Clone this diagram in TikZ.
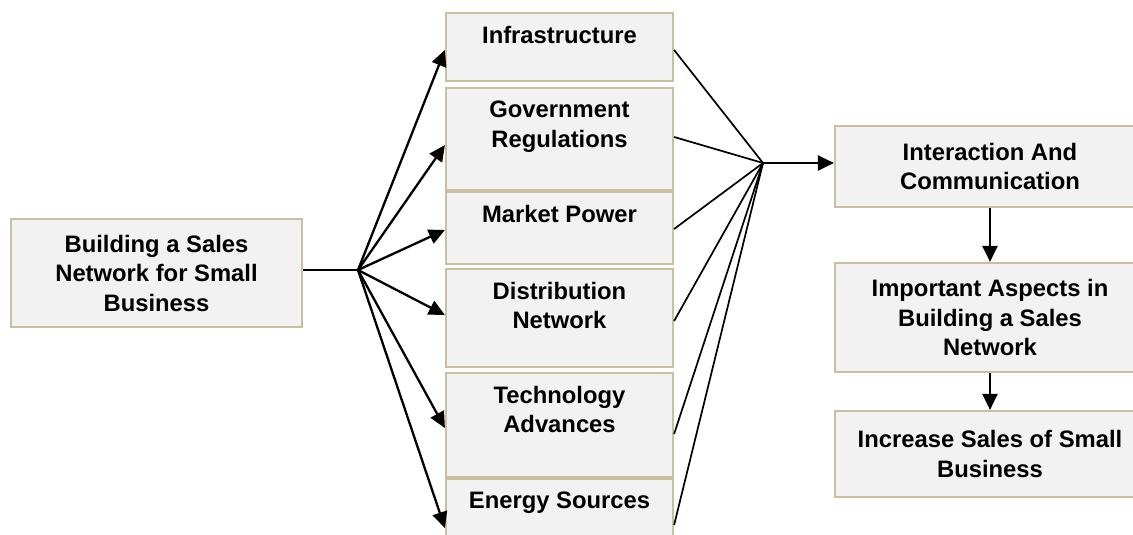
\documentclass[tikz,border=0pt]{standalone}
\usepackage{fontspec}
\setmainfont{Liberation Sans}
\usetikzlibrary{arrows.meta}
\definecolor{boxfill}{HTML}{F2F2F2}
\definecolor{boxline}{HTML}{C9C09F}
\begin{document}
\begin{tikzpicture}[x=1pt,y=-1pt,
  box/.style={draw=boxline,line width=2.2pt,fill=boxfill,inner sep=0pt},
  txt/.style={font=\fontsize{23.8}{29.5}\selectfont\bfseries,align=center,inner sep=0pt},
  arr/.style={line width=2.3pt,-{Triangle[length=16pt,width=15pt]}},
  thin/.style={line width=1.7pt}]
\useasboundingbox (0,0) rectangle (1133,535);
% left box
\node[box,txt,minimum width=291pt,minimum height=108pt] (src) at (156.5,273) {Building a Sales\\Network for Small\\Business};
% middle boxes
\node[box,minimum width=227pt,minimum height=68pt] (inf) at (559.5,47) {};
\node[box,minimum width=227pt,minimum height=102pt] (gov) at (559.5,139) {};
\node[box,minimum width=227pt,minimum height=72pt] (mkt) at (559.5,228) {};
\node[box,minimum width=227pt,minimum height=98pt] (dis) at (559.5,318) {};
\node[box,minimum width=227pt,minimum height=104pt] (tec) at (559.5,425) {};
\node[box,minimum width=227pt,minimum height=110pt] (ene) at (559.5,534) {};
\node[txt,anchor=north] (tinf) at ([yshift=-14pt]inf.north) {Infrastructure};
\node[txt,anchor=north] (tgov) at ([yshift=-14pt]gov.north) {Government\\Regulations};
\node[txt,anchor=north] (tmkt) at ([yshift=-14pt]mkt.north) {Market Power};
\node[txt,anchor=north] (tdis) at ([yshift=-14pt]dis.north) {Distribution\\Network};
\node[txt,anchor=north] (ttec) at ([yshift=-14pt]tec.north) {Technology\\Advances};
\node[txt,anchor=north] (tene) at ([yshift=-14pt]ene.north) {Energy Sources};
% right boxes
\node[box,txt,minimum width=310pt,minimum height=81pt] (int) at (990,166.5) {Interaction And\\Communication};
\node[box,txt,minimum width=310pt,minimum height=109pt] (imp) at (990,317.5) {Important Aspects in\\Building a Sales\\Network};
\node[box,txt,minimum width=310pt,minimum height=86pt] (inc) at (990,454) {Increase Sales of Small\\Business};
% hubs
\coordinate (hl) at (358,270);
\coordinate (hr) at (763,163);
% left connectors
\draw[line width=2.3pt] (src.east |- hl) -- (hl);
\draw[arr] (hl) -- (inf.west |- 0,50);
\draw[arr] (hl) -- (gov.west |- 0,145);
\draw[arr] (hl) -- (mkt.west |- 0,230);
\draw[arr] (hl) -- (dis.west |- 0,315);
\draw[arr] (hl) -- (tec.west |- 0,428);
\draw[arr] (hl) -- (ene.west |- 0,528);
% right connectors
\draw[thin] (inf.east |- 0,50) -- (hr);
\draw[thin] (gov.east |- 0,137) -- (hr);
\draw[thin] (mkt.east |- 0,229) -- (hr);
\draw[thin] (dis.east |- 0,321) -- (hr);
\draw[thin] (tec.east |- 0,434) -- (hr);
\draw[thin] (ene.east |- 0,525) -- (hr);
\draw[arr] (hr) -- (int.west |- hr);
\draw[arr] (int) -- (imp);
\draw[arr] (imp) -- (inc);
\end{tikzpicture}
\end{document}
